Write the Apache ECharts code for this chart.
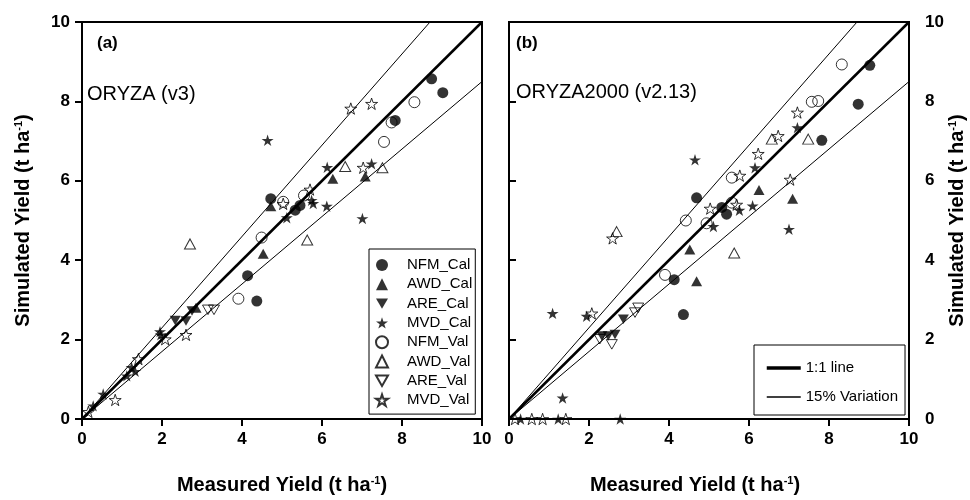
<!DOCTYPE html>
<html lang="en">
<head>
<meta charset="UTF-8">
<title>Simulated vs measured yield</title>
<script src="https://cdn.jsdelivr.net/npm/echarts@6/dist/echarts.min.js"></script>
<style>
    html, body { margin: 0; padding: 0; background: #fff; }
    #chart { width: 970px; height: 500px; }
</style>
</head>
<body>
<div id="chart"></div>
<script>
// (a) ORYZA (v3)  [measured, simulated]
var aNfmCal = [[4.72,5.55],[5.33,5.26],[5.45,5.38],[7.83,7.52],[8.74,8.57],[9.02,8.22],[4.14,3.61],[4.37,2.97]];
var aAwdCal = [[4.72,5.36],[6.27,6.05],[7.08,6.11],[4.53,4.16],[2.85,2.8]];
var aAreCal = [[2.33,2.48],[2.6,2.47],[2.75,2.72]];
var aMvdCal = [[4.64,7.02],[6.13,6.34],[7.24,6.43],[6.12,5.36],[7.01,5.05],[5.12,5.07],[5.74,5.51],[5.78,5.43],[1.95,2.2],[1.97,2.12],[1.24,1.3],[1.33,1.2],[1.12,1.09],[0.53,0.63],[0.28,0.33]];
var aNfmVal = [[8.31,7.98],[7.74,7.47],[7.55,6.98],[5.03,5.47],[5.55,5.63],[4.49,4.57],[3.91,3.03]];
var aAwdVal = [[2.7,4.41],[6.58,6.36],[7.51,6.33],[5.63,4.51]];
var aAreVal = [[3.15,2.75],[3.3,2.75]];
var aMvdVal = [[6.72,7.82],[7.24,7.94],[7.03,6.33],[5.7,5.78],[5.03,5.42],[2.08,2.01],[2.6,2.12],[1.41,1.51],[0.83,0.48],[0.16,0.18]];

// (b) ORYZA2000 (v2.13)
var bNfmCal = [[9.02,8.91],[8.73,7.93],[7.82,7.02],[4.69,5.57],[5.32,5.33],[5.44,5.16],[4.13,3.51],[4.36,2.63]];
var bAwdCal = [[6.25,5.77],[7.09,5.55],[4.52,4.27],[4.69,3.47]];
var bAreCal = [[2.86,2.51],[2.32,2.09],[2.48,2.09],[2.65,2.13]];
var bMvdCal = [[7.21,7.34],[6.15,6.33],[4.65,6.53],[5.76,5.26],[6.09,5.37],[5.11,4.85],[7.0,4.78],[1.09,2.66],[1.94,2.59],[1.34,0.53],[0.29,0],[1.23,0],[2.78,0]];
var bNfmVal = [[8.32,8.93],[7.57,7.99],[7.73,8.01],[5.57,6.08],[5.57,5.45],[4.42,5.0],[4.94,4.93],[3.9,3.63]];
var bAwdVal = [[6.57,7.05],[7.48,7.05],[5.63,4.18],[2.69,4.72]];
var bAreVal = [[3.23,2.8],[3.15,2.68],[2.27,2.01],[2.57,1.88]];
var bMvdVal = [[7.21,7.72],[6.73,7.13],[6.23,6.68],[5.77,6.13],[7.03,6.03],[5.03,5.3],[5.69,5.4],[2.59,4.55],[2.07,2.66],[0.15,0],[0.57,0],[0.84,0],[1.42,0]];

// 1:1 line and +/-15% lines
var oneToOne = [[0,0],[10,10]];
var upper15 = [[0,0],[8.7,10]];
var lower15 = [[0,0],[10,8.5]];

var groupNames = ['NFM_Cal','AWD_Cal','ARE_Cal','MVD_Cal','NFM_Val','AWD_Val','ARE_Val','MVD_Val'];
var panelA = [aNfmCal, aAwdCal, aAreCal, aMvdCal, aNfmVal, aAwdVal, aAreVal, aMvdVal];
var panelB = [bNfmCal, bAwdCal, bAreCal, bMvdCal, bNfmVal, bAwdVal, bAreVal, bMvdVal];

var STAR = 'path://M100 0 L122.45 69.1 L195.11 69.1 L136.33 111.8 L158.78 180.9 L100 138.2 L41.22 180.9 L63.67 111.8 L4.89 69.1 L77.55 69.1 Z';
var DOWN = 'path://M0 0 L10 0 L5 8.66 Z';
var shapes = [
    { symbol: 'circle', size: 11 },
    { symbol: 'triangle', size: [11, 10] },
    { symbol: DOWN, size: 11 },
    { symbol: STAR, size: 12 }
];

var txtFont = '"Liberation Sans", Arial, sans-serif';

var chart = echarts.init(document.getElementById('chart'));

var series = [];
function addPanel(sets, idx) {
    for (var i = 0; i < sets.length; i++) {
        var s = shapes[i % 4];
        var filled = i < 4;
        series.push({
            type: 'scatter',
            name: groupNames[i],
            xAxisIndex: idx,
            yAxisIndex: idx,
            data: sets[i],
            symbol: s.symbol,
            symbolSize: s.size,
            symbolKeepAspect: true,
            clip: false,
            z: 4,
            itemStyle: {
                color: filled ? '#000' : 'rgba(255,255,255,0)',
                borderColor: '#000',
                borderWidth: filled ? 0 : 1
            }
        });
    }
    var lines = [
        { name: '1:1 line', data: oneToOne, w: 2.5 },
        { name: '15% Variation', data: upper15, w: 1 },
        { name: '15% Variation', data: lower15, w: 1 }
    ];
    lines.forEach(function (l) {
        series.push({
            type: 'line',
            name: l.name,
            xAxisIndex: idx,
            yAxisIndex: idx,
            data: l.data,
            symbol: 'none',
            z: 3,
            itemStyle: { color: 'rgba(0,0,0,0)' },   // hides the legend dot
            lineStyle: { color: '#000', width: l.w }
        });
    });
}
addPanel(panelA, 0);
addPanel(panelB, 1);

function nameStyle(pad) {
    return {
        color: '#000',
        fontFamily: txtFont,
        fontWeight: 'bold',
        fontSize: 20,
        padding: pad,
        rich: {
            sup: { fontSize: 11, fontWeight: 'bold', fontFamily: txtFont, verticalAlign: 'top', lineHeight: 11, padding: [0, 0, 9, 0] }
        }
    };
}

function xAx(idx, pad) {
    return {
        gridIndex: idx,
        type: 'value',
        min: 0, max: 10, interval: 2,
        name: 'Measured Yield (t ha{sup|-1})',
        nameLocation: 'middle',
        nameGap: 56,
        nameTextStyle: nameStyle(pad),
        axisLine: { lineStyle: { color: '#000', width: 2 } },
        axisTick: { length: 7, lineStyle: { color: '#000', width: 2 } },
        axisLabel: { margin: 12, color: '#000', fontWeight: 'bold', fontSize: 17, fontFamily: txtFont },
        splitLine: { show: false }
    };
}
function yAx(idx, pos, gap, margin) {
    return {
        gridIndex: idx,
        type: 'value',
        position: pos,
        min: 0, max: 10, interval: 2,
        name: 'Simulated Yield (t ha{sup|-1})',
        nameLocation: 'middle',
        nameGap: gap,
        nameTextStyle: nameStyle(0),
        axisLine: { lineStyle: { color: '#000', width: 2 } },
        axisTick: { length: 7, lineStyle: { color: '#000', width: 2 } },
        axisLabel: { margin: margin, color: '#000', fontWeight: 'bold', fontSize: 17, fontFamily: txtFont },
        splitLine: { show: false }
    };
}

var option = {
    animation: false,
    backgroundColor: '#fff',
    grid: [
        { left: 82, top: 22, width: 400, height: 400, show: true, borderColor: '#000', borderWidth: 2, backgroundColor: 'transparent' },
        { left: 509, top: 22, width: 400, height: 400, show: true, borderColor: '#000', borderWidth: 2, backgroundColor: 'transparent' }
    ],
    xAxis: [xAx(0, 0), xAx(1, [0, 28, 0, 0])],
    yAxis: [yAx(0, 'left', 49, 12), yAx(1, 'right', 36, 16)],
    legend: [
        {
            data: groupNames,
            orient: 'vertical',
            left: 369, top: 249,
            padding: [8.5, 3, 6.5, 6],
            itemWidth: 12, itemHeight: 12,
            itemGap: 4.3,
            borderColor: '#000', borderWidth: 1,
            textStyle: { fontFamily: txtFont, fontSize: 15, color: '#000', lineHeight: 15, padding: [0, 0, 0, 14] },
            selectedMode: false
        },
        {
            data: [
                { name: '1:1 line', lineStyle: { width: 3.5 } },
                { name: '15% Variation', lineStyle: { width: 1.5 } }
            ],
            orient: 'vertical',
            left: 754, top: 345,
            padding: [15.5, 7, 10.5, 11],
            itemWidth: 34, itemHeight: 14,
            itemGap: 14,
            borderColor: '#000', borderWidth: 1,
            textStyle: { fontFamily: txtFont, fontSize: 15, color: '#000', lineHeight: 15 },
            selectedMode: false
        }
    ],
    graphic: [
        { type: 'text', left: 97, top: 35, style: { text: '(a)', font: 'bold 17px ' + txtFont, fill: '#000' } },
        { type: 'text', left: 87, top: 84, style: { text: 'ORYZA (v3)', font: '20px ' + txtFont, fill: '#000' } },
        { type: 'text', left: 516, top: 35, style: { text: '(b)', font: 'bold 17px ' + txtFont, fill: '#000' } },
        { type: 'text', left: 516, top: 82, style: { text: 'ORYZA2000 (v2.13)', font: '20px ' + txtFont, fill: '#000' } }
    ],
    series: series
};
chart.setOption(option);
</script>
</body>
</html>
